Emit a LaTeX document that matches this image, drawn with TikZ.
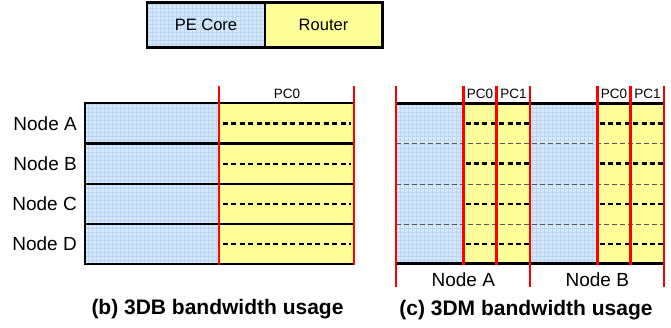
\documentclass[tikz,border=0pt]{standalone}
\usepackage{fontspec}
\setmainfont{Liberation Sans}
\definecolor{pebg}{HTML}{D6E8FB}
\definecolor{pegridc}{HTML}{BBD6F3}
\definecolor{rtbg}{HTML}{FFFF99}
\tikzset{
  blk/.style={line width=2.8pt, black},
  redl/.style={line width=2.5pt, red},
  thickdash/.style={line width=2.6pt, dash pattern=on 5pt off 3.4pt},
  thindash/.style={line width=0.9pt, dash pattern=on 5pt off 3pt, black!65},
  lbl/.style={font=\fontsize{19}{19}\selectfont, inner sep=0pt},
  pclbl/.style={font=\fontsize{13.5}{14}\selectfont, inner sep=0pt},
  leg/.style={font=\fontsize{16.5}{17}\selectfont, inner sep=0pt},
  captxt/.style={font=\fontsize{21}{21}\selectfont\bfseries, inner sep=0pt},
}
\newcommand\peregion[4]{%
  \fill[pebg] (#1,#2) rectangle (#3,#4);
  \begin{scope}
    \clip (#1,#2) rectangle (#3,#4);
    \draw[pegridc, line width=0.35pt, step=4pt] (#1,#2) grid (#3,#4);
  \end{scope}}
\begin{document}
\begin{tikzpicture}[x=1pt,y=-1pt]
\useasboundingbox (0,0) rectangle (671,327);
% ---------- legend ----------
\peregion{147}{2.5}{265}{47.5}
\fill[rtbg] (265,2.5) rectangle (382.5,47.5);
\draw[blk] (147,2.5) rectangle (382.5,47.5);
\draw[blk] (265,2.5) -- (265,47.5);
\node[leg] (lpe) at (206,25) {PE Core};
\node[leg] (lrt) at (323.5,25) {Router};
% ---------- panel (b) ----------
\peregion{85}{103}{219}{264}
\fill[rtbg] (219,103) rectangle (354,264);
\foreach \yy in {103,143.5,184,224}{\draw[blk] (85,\yy) -- (354,\yy);}
\draw[blk] (85,264) -- (354,264);
\draw[blk] (85,101.6) -- (85,265.4);
\foreach \yy in {123.5,164,204,244}{\draw[thickdash] (223,\yy) -- (351,\yy);}
\draw[redl] (219,86) -- (219,265);
\draw[redl] (354,86) -- (354,265);
\node[pclbl] (bpc0) at (287,93.5) {PC0};
\node[lbl, anchor=east] (na) at (77,124) {Node A};
\node[lbl, anchor=east] (nb) at (77,164) {Node B};
\node[lbl, anchor=east] (nc) at (77,204) {Node C};
\node[lbl, anchor=east] (nd) at (77,244) {Node D};
\node[captxt] (capb) at (217.5,309) {(b) 3DB bandwidth usage};
% ---------- panel (c) ----------
\peregion{396}{103.3}{463.3}{263.3}
\peregion{530}{103.3}{597.3}{263.3}
\fill[rtbg] (463.3,103.3) rectangle (530,263.3);
\fill[rtbg] (597.3,103.3) rectangle (664,263.3);
\foreach \yy in {143.5,184.5,224.5}{\draw[thindash] (396,\yy) -- (664,\yy);}
\foreach \yy in {123.5,163.5,204,244}{
  \draw[thickdash] (465.5,\yy) -- (529,\yy);
  \draw[thickdash] (599.5,\yy) -- (663,\yy);}
\draw[blk] (396,103.3) -- (664,103.3);
\draw[blk] (396,263.3) -- (664,263.3);
\foreach \xx in {463.3,496.7,597.3,630.7}{\draw[redl] (\xx,86) -- (\xx,264.5);}
\foreach \xx in {396,530,664}{\draw[redl] (\xx,86) -- (\xx,287);}
\node[pclbl] (c1) at (480,94) {PC0};
\node[pclbl] (c2) at (513.4,94) {PC1};
\node[pclbl] (c3) at (614,94) {PC0};
\node[pclbl] (c4) at (647.4,94) {PC1};
\node[lbl] (cna) at (463.3,280) {Node A};
\node[lbl] (cnb) at (597.3,280) {Node B};
\node[captxt] (capc) at (526,310) {(c) 3DM bandwidth usage};
\end{tikzpicture}
\end{document}
